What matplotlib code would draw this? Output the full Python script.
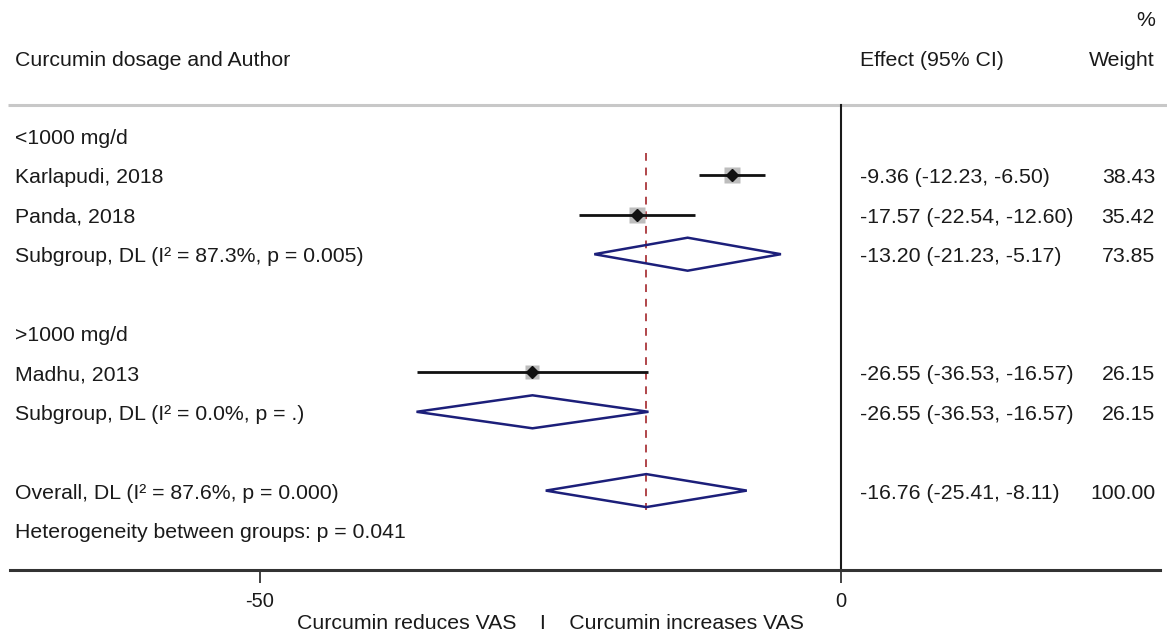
import matplotlib
matplotlib.use("Agg")
import matplotlib.pyplot as plt
from matplotlib.transforms import blended_transform_factory
from matplotlib.patches import Polygon

plt.rcParams['font.family'] = ['Liberation Sans', 'DejaVu Sans']

# ---- data ----
study_labels = ["Karlapudi, 2018", "Panda, 2018", "Madhu, 2013"]
study_effect = [-9.36, -17.57, -26.55]
study_lo = [-12.23, -22.54, -36.53]
study_hi = [-6.50, -12.60, -16.57]
study_weight = [38.43, 35.42, 26.15]
study_rows = [1, 2, 6]

group_labels = ["<1000 mg/d", ">1000 mg/d"]
group_rows = [0, 5]

sub_labels = ["Subgroup, DL (I² = 87.3%, p = 0.005)", "Subgroup, DL (I² = 0.0%, p = .)"]
sub_effect = [-13.20, -26.55]
sub_lo = [-21.23, -36.53]
sub_hi = [-5.17, -16.57]
sub_weight = [73.85, 26.15]
sub_rows = [3, 7]

overall_label = "Overall, DL (I² = 87.6%, p = 0.000)"
overall_effect = -16.76
overall_lo = -25.41
overall_hi = -8.11
overall_weight = 100.00
overall_row = 9

het_label = "Heterogeneity between groups: p = 0.041"
het_row = 10

xticks = [-50, 0]
xtick_labels = ["-50", "0"]

# ---- figure ----
W, H = 1167, 634
fig = plt.figure(figsize=(W / 100, H / 100), dpi=100)
ax = fig.add_axes([0, 0, 1, 1])

px_per_unit = 581 / 50.0
zero_px = 841
ax.set_xlim((0 - zero_px) / px_per_unit, (W - zero_px) / px_per_unit)
row_px0, row_step = 136, 39.4
ax.set_ylim((H - row_px0) / row_step, (0 - row_px0) / row_step)

def px2row(p):
    return (p - row_px0) / row_step

def px2x(p):
    return (p - zero_px) / px_per_unit

for s in ['top', 'left', 'right']:
    ax.spines[s].set_visible(False)
ax.spines['bottom'].set_position(('data', px2row(570)))
ax.spines['bottom'].set_bounds(px2x(10), px2x(1160))
ax.spines['bottom'].set_linewidth(2.2)
ax.spines['bottom'].set_color('#333333')
ax.set_yticks([])
ax.set_xticks(xticks)
ax.set_xticklabels(xtick_labels)
ax.tick_params(axis='x', length=9, width=1.2, color='#222222', labelsize=14.5, pad=7,
               labelcolor='#1a1a1a')

tc = '#1a1a1a'
fs = 15.3
dy = 2.5 / row_step  # text baseline shift
bt = blended_transform_factory(ax.transAxes, ax.transData)
left_x = 15 / W
eff_x = 860 / W
wt_x = 1155 / W

def txt(x, r, s, ha='left'):
    ax.text(x, r + dy, s, transform=bt, ha=ha, va='center', fontsize=fs, color=tc)

# headers
txt(wt_x, px2row(18), "%", ha='right')
txt(left_x, px2row(58), "Curcumin dosage and Author")
txt(eff_x, px2row(58), "Effect (95% CI)")
txt(wt_x, px2row(58), "Weight", ha='right')

# separator lines
ax.plot([px2x(8), px2x(1167)], [px2row(105), px2row(105)], color='#c8c8c8', lw=2.2, solid_capstyle='butt')
ax.plot([0, 0], [px2row(105), px2row(570)], color='#1a1a1a', lw=1.5)

# overall dashed line
ax.plot([overall_effect, overall_effect], [px2row(153), px2row(510)], color='#b0454a',
        lw=1.4, ls=(0, (4, 3.5)), zorder=1)

# group labels
for lab, r in zip(group_labels, group_rows):
    txt(left_x, r, lab)

# studies
for lab, e, lo, hi, w, r in zip(study_labels, study_effect, study_lo, study_hi, study_weight, study_rows):
    txt(left_x, r, lab)
    txt(eff_x, r, f"{e:.2f} ({lo:.2f}, {hi:.2f})")
    txt(wt_x, r, f"{w:.2f}", ha='right')
    side_px = 16.5 * (w / 38.43) ** 0.5
    ax.plot([e], [r], marker='s', ms=side_px * 0.72, color='#bdbdbd', mec='none', zorder=2)
    ax.plot([lo, hi], [r, r], color='#111111', lw=2, zorder=3, solid_capstyle='butt')
    ax.plot([e], [r], marker='D', ms=6.3, color='#111111', zorder=4)

half_h = 16.5 / row_step

def diamond(e, lo, hi, r):
    pts = [(lo, r), (e, r - half_h), (hi, r), (e, r + half_h)]
    ax.add_patch(Polygon(pts, closed=True, fill=False, edgecolor='#1c1f7a', lw=1.8, zorder=5,
                         joinstyle='miter'))

for lab, e, lo, hi, w, r in zip(sub_labels, sub_effect, sub_lo, sub_hi, sub_weight, sub_rows):
    txt(left_x, r, lab)
    txt(eff_x, r, f"{e:.2f} ({lo:.2f}, {hi:.2f})")
    txt(wt_x, r, f"{w:.2f}", ha='right')
    diamond(e, lo, hi, r)

txt(left_x, overall_row, overall_label)
txt(eff_x, overall_row, f"{overall_effect:.2f} ({overall_lo:.2f}, {overall_hi:.2f})")
txt(wt_x, overall_row, f"{overall_weight:.2f}", ha='right')
diamond(overall_effect, overall_lo, overall_hi, overall_row)

txt(left_x, het_row, het_label)

# bottom label
txt(550 / W, px2row(621), "Curcumin reduces VAS    I    Curcumin increases VAS", ha='center')

fig.savefig("out.png", dpi=100, facecolor='white')
